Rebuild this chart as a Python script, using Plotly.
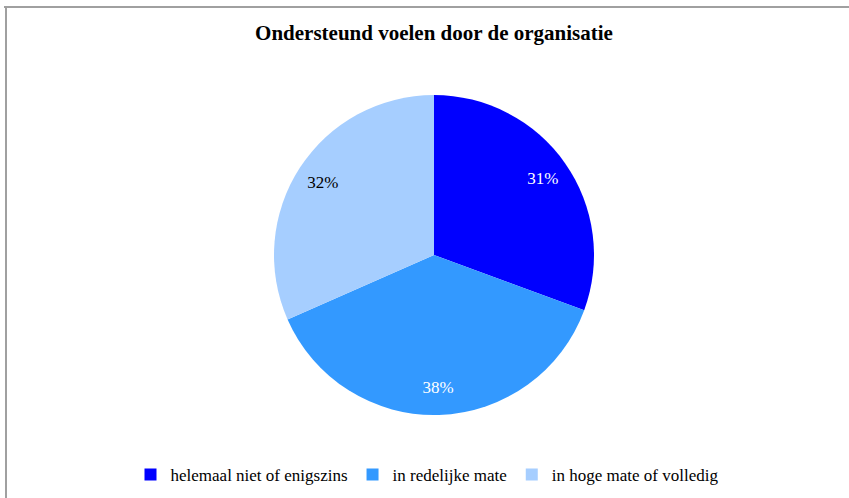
import plotly.graph_objects as go

# categorieën en aandelen
labels = ["helemaal niet of enigszins", "in redelijke mate", "in hoge mate of volledig"]
values = [30.6, 37.8, 31.6]
colors = ["#0000FF", "#3399FF", "#A6CEFF"]
text_colors = ["white", "white", "black"]

W, H = 849, 498
font = "Liberation Serif, Times New Roman, serif"
pie_domain = dict(x=[274 / W, 594 / W], y=[1 - 415 / H, 1 - 95 / H])

fig = go.Figure()
# de taart zelf
fig.add_trace(go.Pie(
    labels=labels,
    values=values,
    sort=False,
    direction="clockwise",
    rotation=0,
    marker=dict(colors=colors, line=dict(width=0)),
    textinfo="none",
    hoverinfo="label+percent",
    domain=pie_domain,
))
# doorzichtige ring erover, alleen om de percentages naar de rand te schuiven (zoals in Excel)
fig.add_trace(go.Pie(
    labels=labels,
    values=values,
    sort=False,
    direction="clockwise",
    rotation=0,
    hole=0.66,
    marker=dict(colors=["rgba(0,0,0,0)"] * 3, line=dict(width=0)),
    texttemplate="%{percent:.0%}",
    textposition="inside",
    insidetextorientation="horizontal",
    textfont=dict(family=font, size=17, color=text_colors),
    hoverinfo="skip",
    showlegend=False,
    domain=pie_domain,
))

fig.update_layout(
    width=W, height=H,
    margin=dict(l=0, r=0, t=0, b=0),
    paper_bgcolor="white",
    title=dict(
        text="<b>Ondersteund voelen door de organisatie</b>",
        x=434 / W, xanchor="center",
        y=1 - 33 / H, yanchor="middle",
        font=dict(family=font, size=21, color="black"),
    ),
    legend=dict(
        orientation="h",
        x=427 / W, xanchor="center",
        y=1 - 475 / H, yanchor="middle",
        font=dict(family=font, size=17, color="black"),
        itemwidth=30,
        traceorder="normal",
    ),
    shapes=[
        dict(type="line", xref="paper", yref="paper",
             x0=4 / W, x1=1, y0=1 - 7 / H, y1=1 - 7 / H,
             line=dict(color="#A0A0A0", width=2)),
        dict(type="line", xref="paper", yref="paper",
             x0=6 / W, x1=6 / W, y0=0, y1=1 - 7 / H,
             line=dict(color="#A0A0A0", width=2)),
    ],
)

fig.write_html("out.html", config={"displayModeBar": False},
               post_script="document.body.style.margin = '0';")
